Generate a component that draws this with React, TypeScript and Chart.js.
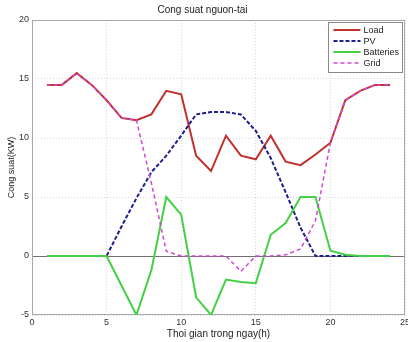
import React, { useEffect, useRef } from "react";
import { Chart, registerables } from "chart.js";

Chart.register(...registerables);

const hours = [1, 2, 3, 4, 5, 6, 7, 8, 9, 10, 11, 12, 13, 14, 15, 16, 17, 18, 19, 20, 21, 22, 23, 24];
const loadValues = [14.5, 14.5, 15.5, 14.5, 13.2, 11.7, 11.5, 12.0, 14.0, 13.7, 8.5, 7.2, 10.2, 8.5, 8.2, 10.2, 8.0, 7.7, 8.6, 9.6, 13.2, 14.0, 14.5, 14.5];
const pvValues = [0, 0, 0, 0, 0, 2.5, 4.9, 7.1, 8.5, 10.2, 12.0, 12.2, 12.2, 12.0, 10.6, 8.3, 5.4, 2.4, 0, 0, 0, 0, 0, 0];
const batteryValues = [0, 0, 0, 0, 0, -2.5, -5, -1.2, 5, 3.5, -3.5, -5, -2, -2.2, -2.3, 1.8, 2.8, 5, 5, 0.45, 0.1, 0, 0, 0];
const gridValues = [14.5, 14.5, 15.5, 14.5, 13.2, 11.7, 11.5, 6.2, 0.4, 0, 0, 0, 0, -1.3, 0, 0, 0.1, 0.6, 3.0, 9.6, 13.2, 14.0, 14.5, 14.5];
const seriesLabels = ["Load", "PV", "Batteries", "Grid"];
const xTicks = [0, 5, 10, 15, 20, 25];
const yTicks = [-5, 0, 5, 10, 15, 20];

const FONT = "'Liberation Sans', Arial, sans-serif";

const toPoints = (vals: number[]) => vals.map((v, i) => ({ x: hours[i], y: v }));

const framePlugin = {
  id: "frame",
  beforeDatasetsDraw(chart: any) {
    const { ctx, chartArea, scales } = chart;
    const y0 = scales.y.getPixelForValue(0);
    ctx.save();
    ctx.strokeStyle = "#707070";
    ctx.lineWidth = 1;
    ctx.beginPath();
    ctx.moveTo(chartArea.left, Math.round(y0) + 0.5);
    ctx.lineTo(chartArea.right, Math.round(y0) + 0.5);
    ctx.stroke();
    ctx.strokeStyle = "#a8a8a8";
    ctx.strokeRect(chartArea.left + 0.5, chartArea.top + 0.5, chartArea.right - chartArea.left - 1, chartArea.bottom - chartArea.top - 1);
    ctx.restore();
  },
  afterDatasetsDraw(chart: any) {
    const { ctx, chartArea } = chart;
    const ds = chart.data.datasets;
    ctx.save();
    ctx.font = `9px ${FONT}`;
    let maxW = 0;
    ds.forEach((d: any) => { maxW = Math.max(maxW, ctx.measureText(d.label).width); });
    const sample = 27;
    const rowH = 11;
    const w = 5 + sample + 3 + maxW + 3;
    const h = ds.length * rowH + 6;
    const right = chartArea.right - 3;
    const top = chartArea.top + 2;
    const left = right - w;
    ctx.fillStyle = "#ffffff";
    ctx.fillRect(left, top, w, h);
    ctx.strokeStyle = "#8a8a8a";
    ctx.lineWidth = 1;
    ctx.strokeRect(Math.round(left) + 0.5, top + 0.5, Math.round(w), h);
    ds.forEach((d: any, i: number) => {
      const cy = top + 8 + i * rowH;
      ctx.strokeStyle = d.borderColor;
      ctx.lineWidth = d.borderWidth;
      ctx.setLineDash(d.borderDash || []);
      ctx.beginPath();
      ctx.moveTo(left + 5, cy);
      ctx.lineTo(left + 5 + sample, cy);
      ctx.stroke();
      ctx.setLineDash([]);
      ctx.fillStyle = "#222";
      ctx.textBaseline = "middle";
      ctx.textAlign = "left";
      ctx.fillText(d.label, left + 5 + sample + 3, cy + 0.5);
    });
    ctx.restore();
  },
};

export default function App() {
  const canvasRef = useRef<HTMLCanvasElement | null>(null);

  useEffect(() => {
    document.body.style.margin = "0";
    const canvas = canvasRef.current;
    if (!canvas) return;
    const chart = new Chart(canvas, {
      type: "line",
      data: {
        datasets: [
          { label: seriesLabels[0], data: toPoints(loadValues), order: 4, borderColor: "#c0302c", borderWidth: 2, pointRadius: 0, tension: 0, fill: false },
          { label: seriesLabels[1], data: toPoints(pvValues), order: 3, borderColor: "#1f1f8a", borderWidth: 2, borderDash: [4, 2], pointRadius: 0, tension: 0, fill: false },
          { label: seriesLabels[2], data: toPoints(batteryValues), order: 2, borderColor: "#44d044", borderWidth: 2, pointRadius: 0, tension: 0, fill: false },
          { label: seriesLabels[3], data: toPoints(gridValues), order: 1, borderColor: "#d048d0", borderWidth: 1.5, borderDash: [4, 3], pointRadius: 0, tension: 0, fill: false },
        ],
      },
      options: {
        animation: false,
        responsive: true,
        maintainAspectRatio: false,
        layout: { padding: { right: 3, left: 0, top: 0, bottom: 0 } },
        plugins: {
          legend: { display: false },
          tooltip: { enabled: false },
          title: {
            display: true,
            text: "Cong suat nguon-tai",
            color: "#222",
            font: { family: FONT, size: 10, weight: "normal" },
            padding: { top: 4, bottom: 4 },
          },
        },
        scales: {
          x: {
            type: "linear",
            min: 0,
            max: 25,
            afterBuildTicks: (scale: any) => { scale.ticks = xTicks.map((v) => ({ value: v })); },
            afterFit: (scale: any) => { scale.height = 27; scale.paddingLeft = 0; scale.paddingRight = 0; },
            ticks: { color: "#333", font: { family: FONT, size: 9 }, padding: 2, maxRotation: 0, autoSkip: false },
            grid: { color: "#d8d8d8", drawTicks: false, lineWidth: 1 },
            border: { display: false, dash: [1, 2] },
            title: { display: true, text: "Thoi gian trong ngay(h)", color: "#222", font: { family: FONT, size: 10 }, padding: { top: 0, bottom: 2 } },
          },
          y: {
            type: "linear",
            min: -5,
            max: 20,
            afterBuildTicks: (scale: any) => { scale.ticks = yTicks.map((v) => ({ value: v })); },
            afterFit: (scale: any) => { scale.width = 32; scale.paddingTop = 0; scale.paddingBottom = 0; },
            ticks: { color: "#333", font: { family: FONT, size: 9 }, padding: 3, autoSkip: false },
            grid: { color: (c: any) => (c.tick && c.tick.value === 0 ? "rgba(0,0,0,0)" : "#d8d8d8"), drawTicks: false, lineWidth: 1 },
            border: { display: false, dash: [1, 2] },
            title: { display: true, text: "Cong suat(KW)", color: "#222", font: { family: FONT, size: 9 }, padding: { top: 6, bottom: 0 } },
          },
        },
      },
      plugins: [framePlugin],
    } as any);
    return () => chart.destroy();
  }, []);

  return (
    <div style={{ width: 408, height: 342, position: "relative" }}>
      <canvas ref={canvasRef} />
    </div>
  );
}
